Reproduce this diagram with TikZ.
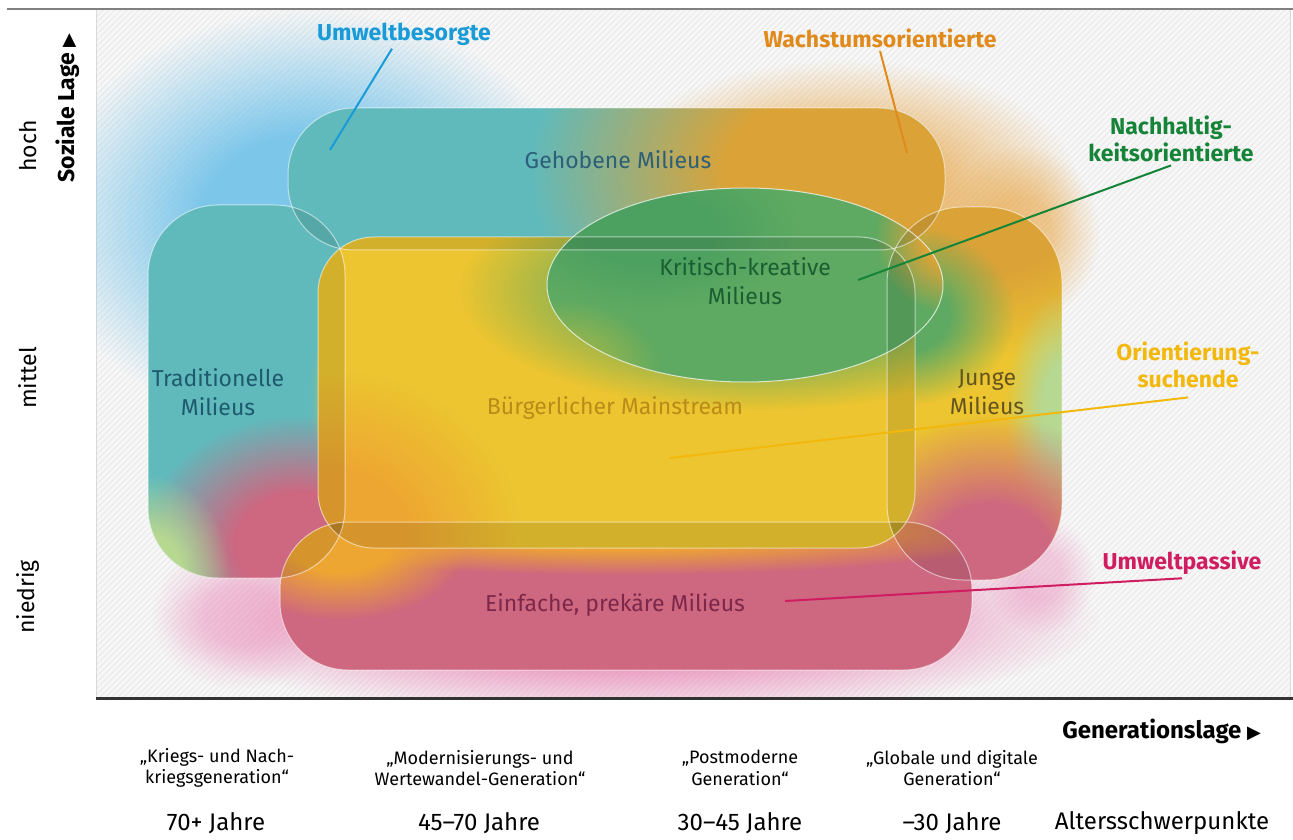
\documentclass[tikz,border=0pt]{standalone}
\usepackage{fontspec}
\setmainfont{Fira Sans}
\newfontfamily\symfont{DejaVu Sans}
\usetikzlibrary{patterns,fadings}

\definecolor{tealmil}{RGB}{96,186,188}
\definecolor{orangemil}{RGB}{219,163,55}
\definecolor{orangemiltwo}{RGB}{238,166,50}
\definecolor{yellowmil}{RGB}{236,197,48}
\definecolor{greenmil}{RGB}{94,170,98}
\definecolor{greendark}{RGB}{76,160,96}
\definecolor{pinkmil}{RGB}{206,103,128}
\definecolor{lightgreen}{RGB}{182,216,145}
\definecolor{haloblue}{RGB}{118,196,234}
\definecolor{haloorange}{RGB}{232,168,75}
\definecolor{halopink}{RGB}{232,122,175}
\definecolor{cblue}{RGB}{25,155,215}
\definecolor{corange}{RGB}{224,138,28}
\definecolor{cgreen}{RGB}{22,132,56}
\definecolor{cyellow}{RGB}{243,184,12}
\definecolor{cmagenta}{RGB}{208,28,96}
\definecolor{tgeh}{RGB}{45,95,120}
\definecolor{ttrad}{RGB}{30,90,110}
\definecolor{tbuerg}{RGB}{185,140,25}
\definecolor{tkrit}{RGB}{25,95,50}
\definecolor{tjunge}{RGB}{100,85,30}
\definecolor{teinf}{RGB}{125,40,75}

% soft edged blob: opaque core, long fuzzy rim
\pgfdeclareradialshading{softshade}{\pgfpointorigin}{color(0bp)=(pgftransparent!0); color(10bp)=(pgftransparent!0); color(25bp)=(pgftransparent!100); color(50bp)=(pgftransparent!100)}
\pgfdeclarefading{softedge}{\pgfuseshading{softshade}}

\tikzset{
  blob/.style={path fading=softedge},
  halo/.style={path fading=softedge, fill opacity=#1},
  milieu/.style={draw=white, draw opacity=.55, line width=.5pt},
  lens/.style={fill=black, fill opacity=.1},
  milieutext/.style={font=\fontsize{11.5}{14.5}\selectfont, align=center},
  grouptext/.style={font=\bfseries\fontsize{11.5}{13.5}\selectfont, align=center, inner sep=1.5pt},
  leader/.style={line width=1pt},
  axistext/.style={font=\fontsize{11.5}{13}\selectfont},
  axisbold/.style={font=\bfseries\fontsize{11.5}{13}\selectfont},
  gentext/.style={font=\fontsize{9}{10.8}\selectfont, align=center},
  agetext/.style={font=\fontsize{12}{14}\selectfont},
}

\begin{document}
\begin{tikzpicture}[x=0.5pt, y=-0.5pt]
	\useasboundingbox (0,0) rectangle (1293,839);
	% hatched plot area
	\fill[black!3] (96,9) rectangle (1290,698);
	\fill[pattern=north east lines, pattern color=black!9] (96,9) rectangle (1290,698);
	\draw[black!15] (96,9) -- (96,698);
	\draw[black!15] (1290,9) -- (1290,698);
	\draw[black!50, line width=.8pt] (7,9) -- (1293,9);

	% halos
	\begin{scope}
	\clip (96,9) rectangle (1290,698);
	\fill[haloblue, halo=.95] (310,220) ellipse [x radius=270, y radius=210];
	\fill[haloorange, halo=.75] (840,190) ellipse [x radius=240, y radius=130];
	\fill[haloorange, halo=.55] (1020,235) ellipse [x radius=80, y radius=90];
	\fill[halopink, halo=.8] (630,620) ellipse [x radius=470, y radius=100];
	\fill[halopink, halo=.35] (240,615) ellipse [x radius=90, y radius=75];
	\fill[halopink, halo=.35] (1040,575) ellipse [x radius=55, y radius=60];
	\end{scope}

	% Traditionelle
	\begin{scope}
	\clip[rounded corners=35pt] (148,205) rectangle (345,578);
	\fill[tealmil] (148,205) rectangle (345,578);
	\fill[yellowmil, blob, opacity=.6] (350,400) ellipse [x radius=40, y radius=110];
	\fill[pinkmil, blob] (300,545) ellipse [x radius=160, y radius=130];
	\fill[lightgreen, blob] (150,575) ellipse [x radius=80, y radius=100];
	\end{scope}
	% Junge
	\begin{scope}
	\clip[rounded corners=38pt] (887,207) rectangle (1062,580);
	\fill[yellowmil] (887,207) rectangle (1062,580);
	\fill[orangemil, blob] (1000,215) ellipse [x radius=170, y radius=140];
	\fill[greenmil, blob] (905,315) ellipse [x radius=110, y radius=90];
	\fill[lightgreen, blob] (1065,410) ellipse [x radius=60, y radius=120];
	\fill[pinkmil, blob] (990,565) ellipse [x radius=160, y radius=150];
	\end{scope}
	% Gehobene
	\begin{scope}
	\clip[rounded corners=33pt] (288,108) rectangle (945,250);
	\fill[tealmil] (288,108) rectangle (945,250);
	\fill[orangemil, blob] (860,170) ellipse [x radius=330, y radius=220];
	\end{scope}
	% Einfache
	\begin{scope}
	\clip[rounded corners=34pt] (280,522) rectangle (972,670);
	\fill[pinkmil] (280,522) rectangle (972,670);
	\fill[orangemiltwo, blob] (620,530) ellipse [x radius=420, y radius=45];
	\fill[orangemiltwo, blob] (340,540) ellipse [x radius=130, y radius=80];
	\end{scope}
	% Buergerlicher Mainstream
	\begin{scope}
	\clip[rounded corners=28pt] (318,237) rectangle (915,548);
	\fill[yellowmil] (318,237) rectangle (915,548);
	\fill[orangemiltwo, blob] (330,540) ellipse [x radius=190, y radius=170];
	\fill[greenmil, blob] (760,290) ellipse [x radius=300, y radius=120];
	\end{scope}
	% Kritisch-kreative
	\begin{scope}
	\clip (745,285) ellipse [x radius=198, y radius=97];
	\fill[greenmil] (547,188) rectangle (943,382);
	\fill[greendark, blob] (650,230) ellipse [x radius=150, y radius=80];
	\fill[yellowmil, blob, opacity=.4] (560,370) ellipse [x radius=100, y radius=70];
	\fill[orangemil, blob] (955,235) ellipse [x radius=80, y radius=80];
	\end{scope}

	% overlaps
	\begin{scope}
	\clip[rounded corners=35pt] (148,205) rectangle (345,578);
	\fill[lens, rounded corners=33pt] (288,108) rectangle (945,250);
	\fill[lens, rounded corners=28pt] (318,237) rectangle (915,548);
	\fill[lens, rounded corners=34pt] (280,522) rectangle (972,670);
	\end{scope}
	\begin{scope}
	\clip[rounded corners=38pt] (887,207) rectangle (1062,580);
	\fill[lens, rounded corners=33pt] (288,108) rectangle (945,250);
	\fill[lens, rounded corners=28pt] (318,237) rectangle (915,548);
	\fill[lens, rounded corners=34pt] (280,522) rectangle (972,670);
	\end{scope}
	\begin{scope}
	\clip[rounded corners=28pt] (318,237) rectangle (915,548);
	\fill[lens, rounded corners=33pt] (288,108) rectangle (945,250);
	\fill[lens, rounded corners=34pt] (280,522) rectangle (972,670);
	\end{scope}

	% outlines
	\draw[milieu, rounded corners=35pt] (148,205) rectangle (345,578);
	\draw[milieu, rounded corners=38pt] (887,207) rectangle (1062,580);
	\draw[milieu, rounded corners=33pt] (288,108) rectangle (945,250);
	\draw[milieu, rounded corners=34pt] (280,522) rectangle (972,670);
	\draw[milieu, rounded corners=28pt] (318,237) rectangle (915,548);
	\draw[milieu, draw opacity=.7] (745,285) ellipse [x radius=198, y radius=97];

	% milieus
	\node[milieutext, text=tgeh] (gehobene) at (618,160) {Gehobene Milieus};
	\node[milieutext, text=ttrad] (tradition) at (218,392) {Traditionelle\\Milieus};
	\node[milieutext, text=tbuerg] (buerger) at (615,408) {Bürgerlicher Mainstream};
	\node[milieutext, text=tkrit] (kritisch) at (745,281) {Kritisch-kreative\\Milieus};
	\node[milieutext, text=tjunge] (junge) at (987,392) {Junge\\Milieus};
	\node[milieutext, text=teinf] (einfach) at (615,605) {Einfache, prekäre Milieus};

	% groups with leader lines
	\node[grouptext, text=cblue] (besorgt) at (404,34) {Umweltbesorgte};
	\node[grouptext, text=corange] (wachstum) at (880,38) {Wachstumsorientierte};
	\node[grouptext, text=cgreen] (nachhaltig) at (1171,139) {Nachhaltig-\\keitsorientierte};
	\node[grouptext, text=cyellow] (orient) at (1188,365) {Orientierung-\\suchende};
	\node[grouptext, text=cmagenta] (passiv) at (1182,563) {Umweltpassive};
	\coordinate (besorgtend) at (330,150);
	\coordinate (wachstumend) at (907,153);
	\coordinate (nachhaltigend) at (858,280);
	\coordinate (orientend) at (670,458);
	\coordinate (passivend) at (785,601);
	\draw[leader, cblue] ([xshift=-6pt]besorgt.south) -- (besorgtend);
	\draw[leader, corange] (wachstum.south) -- (wachstumend);
	\draw[leader, cgreen] (nachhaltig.south) -- (nachhaltigend);
	\draw[leader, cyellow] ([yshift=-3pt]orient.south) -- (orientend);
	\draw[leader, cmagenta] (passiv.south) -- (passivend);

	% axes
	\draw[black!80, line width=1.5pt] (96,698) -- (1293,698);
	\node[axistext, rotate=90] (hoch) at (28,146) {hoch};
	\node[axistext, rotate=90] (mittel) at (28,378) {mittel};
	\node[axistext, rotate=90] (niedrig) at (28,597) {niedrig};
	\node[axisbold, rotate=90] (sozlage) at (68,108) {Soziale Lage {\symfont\fontsize{9}{9}\selectfont ▶}};
	\node[axisbold, font=\bfseries\fontsize{12}{14}\selectfont, anchor=east] (genlage) at (1268,731) {Generationslage {\symfont\fontsize{9}{9}\selectfont ▶}};

	\node[gentext] (krieg) at (217,768) {„Kriegs- und Nach-\\kriegsgeneration“};
	\node[gentext] (modern) at (480,768) {„Modernisierungs- und\\Wertewandel-Generation“};
	\node[gentext] (postmod) at (740,768) {„Postmoderne\\Generation“};
	\node[gentext] (global) at (952,768) {„Globale und digitale\\Generation“};

	\node[agetext] (alt70) at (216,823) {70+ Jahre};
	\node[agetext] (alt45) at (479,823) {45–70 Jahre};
	\node[agetext] (alt30) at (740,823) {30–45 Jahre};
	\node[agetext] (altjung) at (952,823) {–30 Jahre};
	\node[agetext] (schwer) at (1162,823) {Altersschwerpunkte};
\end{tikzpicture}
\end{document}
